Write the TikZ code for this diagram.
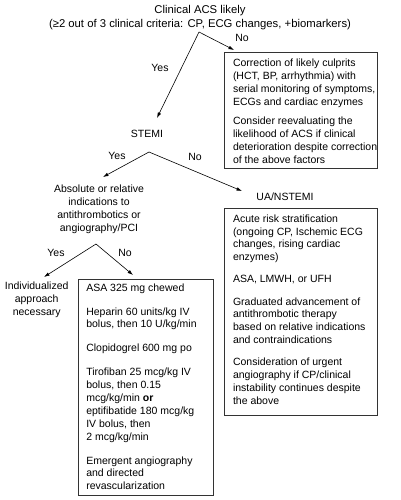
\documentclass[tikz,border=0pt]{standalone}
\usepackage{fontspec}
\setmainfont{Liberation Sans}
\usetikzlibrary{arrows.meta}
\newcommand\fbody{\fontsize{10.5}{12.85}\selectfont}
\newcommand\ftitle{\fontsize{11.3}{14}\selectfont}
\begin{document}
\begin{tikzpicture}[x=1pt,y=-1pt,
  arr/.style={-{Latex[length=5.5pt,width=3.6pt]}, line width=0.6pt},
  boxnode/.style={draw=black!80, line width=0.6pt, inner sep=0pt, anchor=north west},
  lbl/.style={font=\fbody, inner sep=0pt},
  ctext/.style={font=\fbody, align=center, inner sep=0pt}]
\useasboundingbox[fill=white] (0,0) rectangle (401,500);

\node[font=\ftitle, align=center, inner sep=0pt] (title) at (200,18)
  {Clinical ACS likely\\(≥2 out of 3 clinical criteria: CP, ECG changes, +biomarkers)};

\node[boxnode] (b1) at (224,52) {\hspace*{8.7pt}\parbox[c][116pt][t]{144.3pt}{\fbody\raggedright\vspace*{5.5pt}\strut Correction of likely culprits\\ (HCT, BP, arrhythmia) with\\ serial monitoring of symptoms,\\ ECGs and cardiac enzymes\\[6.6pt] Consider reevaluating the\\ likelihood of ACS if clinical\\ deterioration despite correction\\ of the above factors}};

\node[boxnode] (b2) at (78,278.5) {\hspace*{8pt}\parbox[c][216.5pt][t]{127pt}{\fbody\raggedright\vspace*{3.3pt}\strut ASA 325 mg chewed\\[11.1pt] Heparin 60 units/kg IV\\ bolus, then 10 U/kg/min\\[11.1pt] Clopidogrel 600 mg po\\[11.1pt] Tirofiban 25 mcg/kg IV\\ bolus, then 0.15\\ mcg/kg/min \textbf{or}\\ eptifibatide 180 mcg/kg\\ IV bolus, then\\ 2 mcg/kg/min\\[11.1pt] Emergent angiography\\ and directed\\ revascularization}};

\node[boxnode] (b3) at (224,208) {\hspace*{8.7pt}\parbox[c][207pt][t]{144.3pt}{\fbody\raggedright\vspace*{5.0pt}\strut Acute risk stratification\\ (ongoing CP, Ischemic ECG\\ changes, rising cardiac\\ enzymes)\\[9.3pt] ASA, LMWH, or UFH\\[9.3pt] Graduated advancement of\\ antithrombotic therapy\\ based on relative indications\\ and contraindications\\[9.3pt] Consideration of urgent\\ angiography if CP/clinical\\ instability continues despite\\ the above}};

\node[lbl] (stemi) at (147,134) {STEMI};
\node[ctext] (abs) at (99,209.5) {Absolute or relative\\ indications to\\ antithrombotics or\\ angiography/PCI};
\node[lbl] (ua) at (285,197) {UA/NSTEMI};
\node[ctext] (ind) at (36.7,300) {Individualized\\ approach\\ necessary};

\node[lbl] (y1) at (160,68) {Yes};
\node[lbl] (n1) at (242,38) {No};
\node[lbl] (y2) at (117,156) {Yes};
\node[lbl] (n2) at (195,157) {No};
\node[lbl] (y3) at (56,253) {Yes};
\node[lbl] (n3) at (125,253) {No};

\coordinate (ap1) at (199,32);
\coordinate (t1y) at (157,118);
\coordinate (t1n) at (234,50);
\coordinate (ap2) at (149,152);
\coordinate (t2y) at (103,177);
\coordinate (t2n) at (242,191);
\coordinate (ap3) at (96,244);
\coordinate (t3y) at (44,277);
\coordinate (t3n) at (133,275);

\draw[arr] (ap1) -- (t1y);
\draw[arr] (ap1) -- (t1n);
\draw[arr] (ap2) -- (t2y);
\draw[arr] (ap2) -- (t2n);
\draw[arr] (ap3) -- (t3y);
\draw[arr] (ap3) -- (t3n);
\end{tikzpicture}
\end{document}
